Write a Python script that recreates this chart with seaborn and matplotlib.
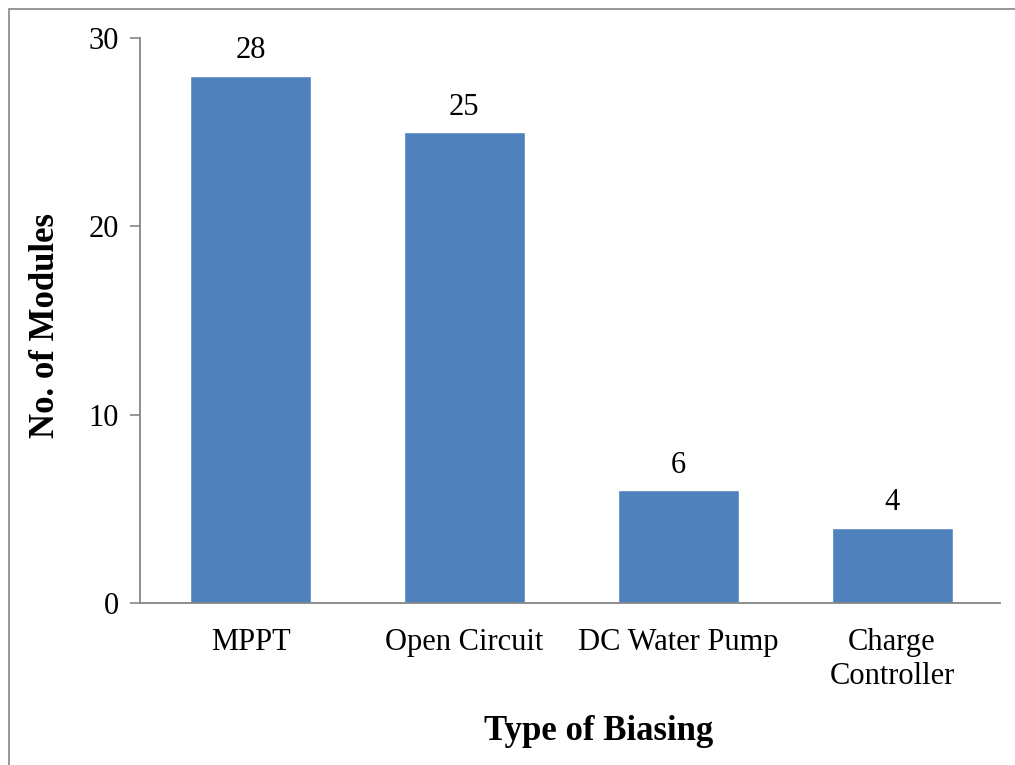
import matplotlib
matplotlib.use('Agg')
import matplotlib.pyplot as plt
import seaborn as sns
import pandas as pd
from matplotlib.patches import Rectangle

biasing = ['MPPT', 'Open Circuit', 'DC Water Pump', 'Charge\nController']
modules = [28, 25, 6, 4]

df = pd.DataFrame({'Type of Biasing': biasing, 'No. of Modules': modules})

sns.set_style('white')
plt.rcParams['font.family'] = ['Liberation Serif', 'DejaVu Serif']
plt.rcParams['text.color'] = 'black'
plt.rcParams['axes.labelcolor'] = 'black'
plt.rcParams['xtick.color'] = 'black'
plt.rcParams['ytick.color'] = 'black'

fig = plt.figure(figsize=(10.15, 7.65), dpi=100)
ax = fig.add_axes([140 / 1015, 1 - 603 / 765, 860 / 1015, (603 - 38) / 765])

sns.barplot(x='Type of Biasing', y='No. of Modules', data=df, color='#4F81BD',
            saturation=1, width=0.566, ax=ax)

for i, v in enumerate(modules):
    ax.text(i, v + 0.55, str(v), ha='center', va='bottom', fontsize=22)

ax.set_xlim(-0.517, 3.505)
ax.set_ylim(0, 30)
ax.set_yticks([0, 10, 20, 30])
ax.tick_params(axis='y', length=7, width=1.2, color='#868686', labelsize=22, pad=8, left=True)
ax.tick_params(axis='x', length=0, labelsize=22, pad=18)
for lbl in ax.get_xticklabels():
    lbl.set_linespacing(1.25)

for s in ['top', 'right']:
    ax.spines[s].set_visible(False)
for s in ['left', 'bottom']:
    ax.spines[s].set_color('#868686')
    ax.spines[s].set_linewidth(1.3)

ax.set_xlabel('Type of Biasing', fontsize=25, fontweight='bold')
ax.set_ylabel('No. of Modules', fontsize=25, fontweight='bold')
ax.xaxis.set_label_coords(0.533, -0.199)
ax.yaxis.set_label_coords(-0.0907, 0.492)

# chart area border, like the one in the reference
fig.patches.append(Rectangle((9 / 1015, -0.1), 1.2, 1 - 9 / 765 + 0.1, transform=fig.transFigure,
                             fill=False, edgecolor='#868686', linewidth=1.2))

fig.savefig('out.png', dpi=100)
